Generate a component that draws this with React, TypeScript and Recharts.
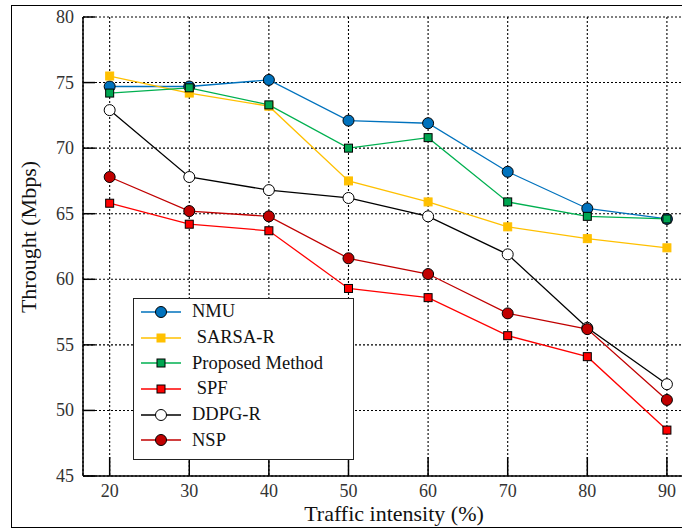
import React from 'react';
import { LineChart, Line, XAxis, YAxis, CartesianGrid } from 'recharts';

const trafficIntensity = [20, 30, 40, 50, 60, 70, 80, 90];
const nmu = [74.7, 74.7, 75.2, 72.1, 71.9, 68.2, 65.4, 64.6];
const sarsaR = [75.5, 74.2, 73.2, 67.5, 65.9, 64.0, 63.1, 62.4];
const proposed = [74.2, 74.6, 73.3, 70.0, 70.8, 65.9, 64.8, 64.6];
const spf = [65.8, 64.2, 63.7, 59.3, 58.6, 55.7, 54.1, 48.5];
const ddpgR = [72.9, 67.8, 66.8, 66.2, 64.8, 61.9, 56.3, 52.0];
const nsp = [67.8, 65.2, 64.8, 61.6, 60.4, 57.4, 56.2, 50.8];

const xTicks = [20, 30, 40, 50, 60, 70, 80, 90];
const yTicks = [45, 50, 55, 60, 65, 70, 75, 80];

const FONT = '"Liberation Serif", "DejaVu Serif", serif';

type Shape = 'circle' | 'square';

interface SeriesDef {
  key: string;
  name: string;
  line: string;
  fill: string;
  stroke: string;
  shape: Shape;
}

const SERIES: SeriesDef[] = [
  { key: 'nmu', name: 'NMU', line: '#0072BD', fill: '#0072BD', stroke: '#000', shape: 'circle' },
  { key: 'sarsa', name: ' SARSA-R', line: '#FFC000', fill: '#FFC000', stroke: '#FFC000', shape: 'square' },
  { key: 'proposed', name: 'Proposed Method', line: '#00B050', fill: '#00A651', stroke: '#000', shape: 'square' },
  { key: 'spf', name: ' SPF', line: '#FF0000', fill: '#FF0000', stroke: '#000', shape: 'square' },
  { key: 'ddpg', name: 'DDPG-R', line: '#000000', fill: '#FFFFFF', stroke: '#000', shape: 'circle' },
  { key: 'nsp', name: 'NSP', line: '#C00000', fill: '#C00000', stroke: '#000', shape: 'circle' },
];

const data = trafficIntensity.map((x, i) => ({
  x,
  nmu: nmu[i],
  sarsa: sarsaR[i],
  proposed: proposed[i],
  spf: spf[i],
  ddpg: ddpgR[i],
  nsp: nsp[i],
}));

const MarkerSvg = ({ cx, cy, s }: { cx: number; cy: number; s: SeriesDef }) => {
  if (s.shape === 'circle') {
    return <circle cx={cx} cy={cy} r={5.5} fill={s.fill} stroke={s.stroke} strokeWidth={1} />;
  }
  const size = 8;
  return <rect x={cx - size / 2} y={cy - size / 2} width={size} height={size} fill={s.fill} stroke={s.stroke} strokeWidth={1} />;
};

const makeDot = (s: SeriesDef) => (props: any) => {
  const { cx, cy, index } = props;
  if (cx == null || cy == null) return <g key={index} />;
  return <MarkerSvg key={index} cx={cx} cy={cy} s={s} />;
};

const XTick = (props: any) => {
  const { x, y, payload } = props;
  return (
    <g>
      <line x1={x} y1={y} x2={x} y2={y - 19} stroke="#000" strokeWidth={1.5} />
      <text x={x} y={y + 21} textAnchor="middle" fontSize={18} fill="#333" fontFamily={FONT}>{payload.value}</text>
    </g>
  );
};

const YTick = (props: any) => {
  const { x, y, payload } = props;
  return (
    <g>
      <line x1={x} y1={y} x2={x + 12} y2={y} stroke="#000" strokeWidth={1.5} />
      <text x={x - 9} y={y + 6} textAnchor="end" fontSize={18} fill="#333" fontFamily={FONT}>{payload.value}</text>
    </g>
  );
};

const LegendBox = () => (
  <div style={{ position: 'absolute', left: 133, top: 298, width: 221, height: 162, border: '1.3px solid #222', background: '#fff', boxSizing: 'border-box', paddingTop: 0 }}>
    {SERIES.map((s) => (
      <div key={s.key} style={{ display: 'flex', alignItems: 'center', height: 25.7 }}>
        <svg width={58} height={20} style={{ flex: 'none' }}>
          <line x1={7} y1={10} x2={47} y2={10} stroke={s.line} strokeWidth={1.3} />
          <MarkerSvg cx={27} cy={10} s={s} />
        </svg>
        <span style={{ fontFamily: FONT, fontSize: 18.5, color: '#111', whiteSpace: 'pre' }}>{s.name}</span>
      </div>
    ))}
  </div>
);

export default function App() {
  return (
    <div style={{ position: 'absolute', left: 0, top: 0, width: 682, height: 531, overflow: 'hidden', background: '#fff' }}>
      <div style={{ position: 'absolute', left: 11, top: 5, width: 700, height: 523, border: '1.5px solid #000', boxSizing: 'border-box' }} />
      <div style={{ position: 'absolute', left: 0, top: 0 }}>
        <LineChart width={690} height={531} data={data} margin={{ top: 17, right: 0, left: 0, bottom: 0 }}>
          <CartesianGrid stroke="#000" strokeDasharray="2 2" strokeWidth={1.1} />
          <XAxis
            dataKey="x"
            type="number"
            domain={[16.65, 92.9]}
            ticks={xTicks}
            height={55}
            tickSize={0}
            tickMargin={0}
            tickLine={false}
            axisLine={{ stroke: '#000', strokeWidth: 1.5 }}
            tick={<XTick />}
            allowDataOverflow
          />
          <XAxis xAxisId="top" orientation="top" dataKey="x" type="number" domain={[16.65, 92.9]} height={0} tick={false} tickLine={false} axisLine={{ stroke: '#000', strokeWidth: 1.5 }} />
          <YAxis
            type="number"
            domain={[45, 80]}
            ticks={yTicks}
            width={83}
            tickSize={0}
            tickMargin={0}
            tickLine={false}
            axisLine={{ stroke: '#000', strokeWidth: 1.5 }}
            tick={<YTick />}
          />
          {SERIES.map((s) => (
            <Line
              key={s.key}
              dataKey={s.key}
              name={s.name}
              type="linear"
              stroke={s.line}
              strokeWidth={1.3}
              dot={makeDot(s)}
              activeDot={false}
              isAnimationActive={false}
            />
          ))}
        </LineChart>
        <LegendBox />
        <div style={{ position: 'absolute', left: 394, top: 514, transform: 'translate(-50%, -50%)', fontFamily: FONT, fontSize: 22, whiteSpace: 'nowrap', color: '#111' }}>
          Traffic intensity (%)
        </div>
        <div style={{ position: 'absolute', left: 29, top: 237, transform: 'translate(-50%, -50%) rotate(-90deg)', fontFamily: FONT, fontSize: 22, whiteSpace: 'nowrap', color: '#111' }}>
          Throught (Mbps)
        </div>
      </div>
    </div>
  );
}
